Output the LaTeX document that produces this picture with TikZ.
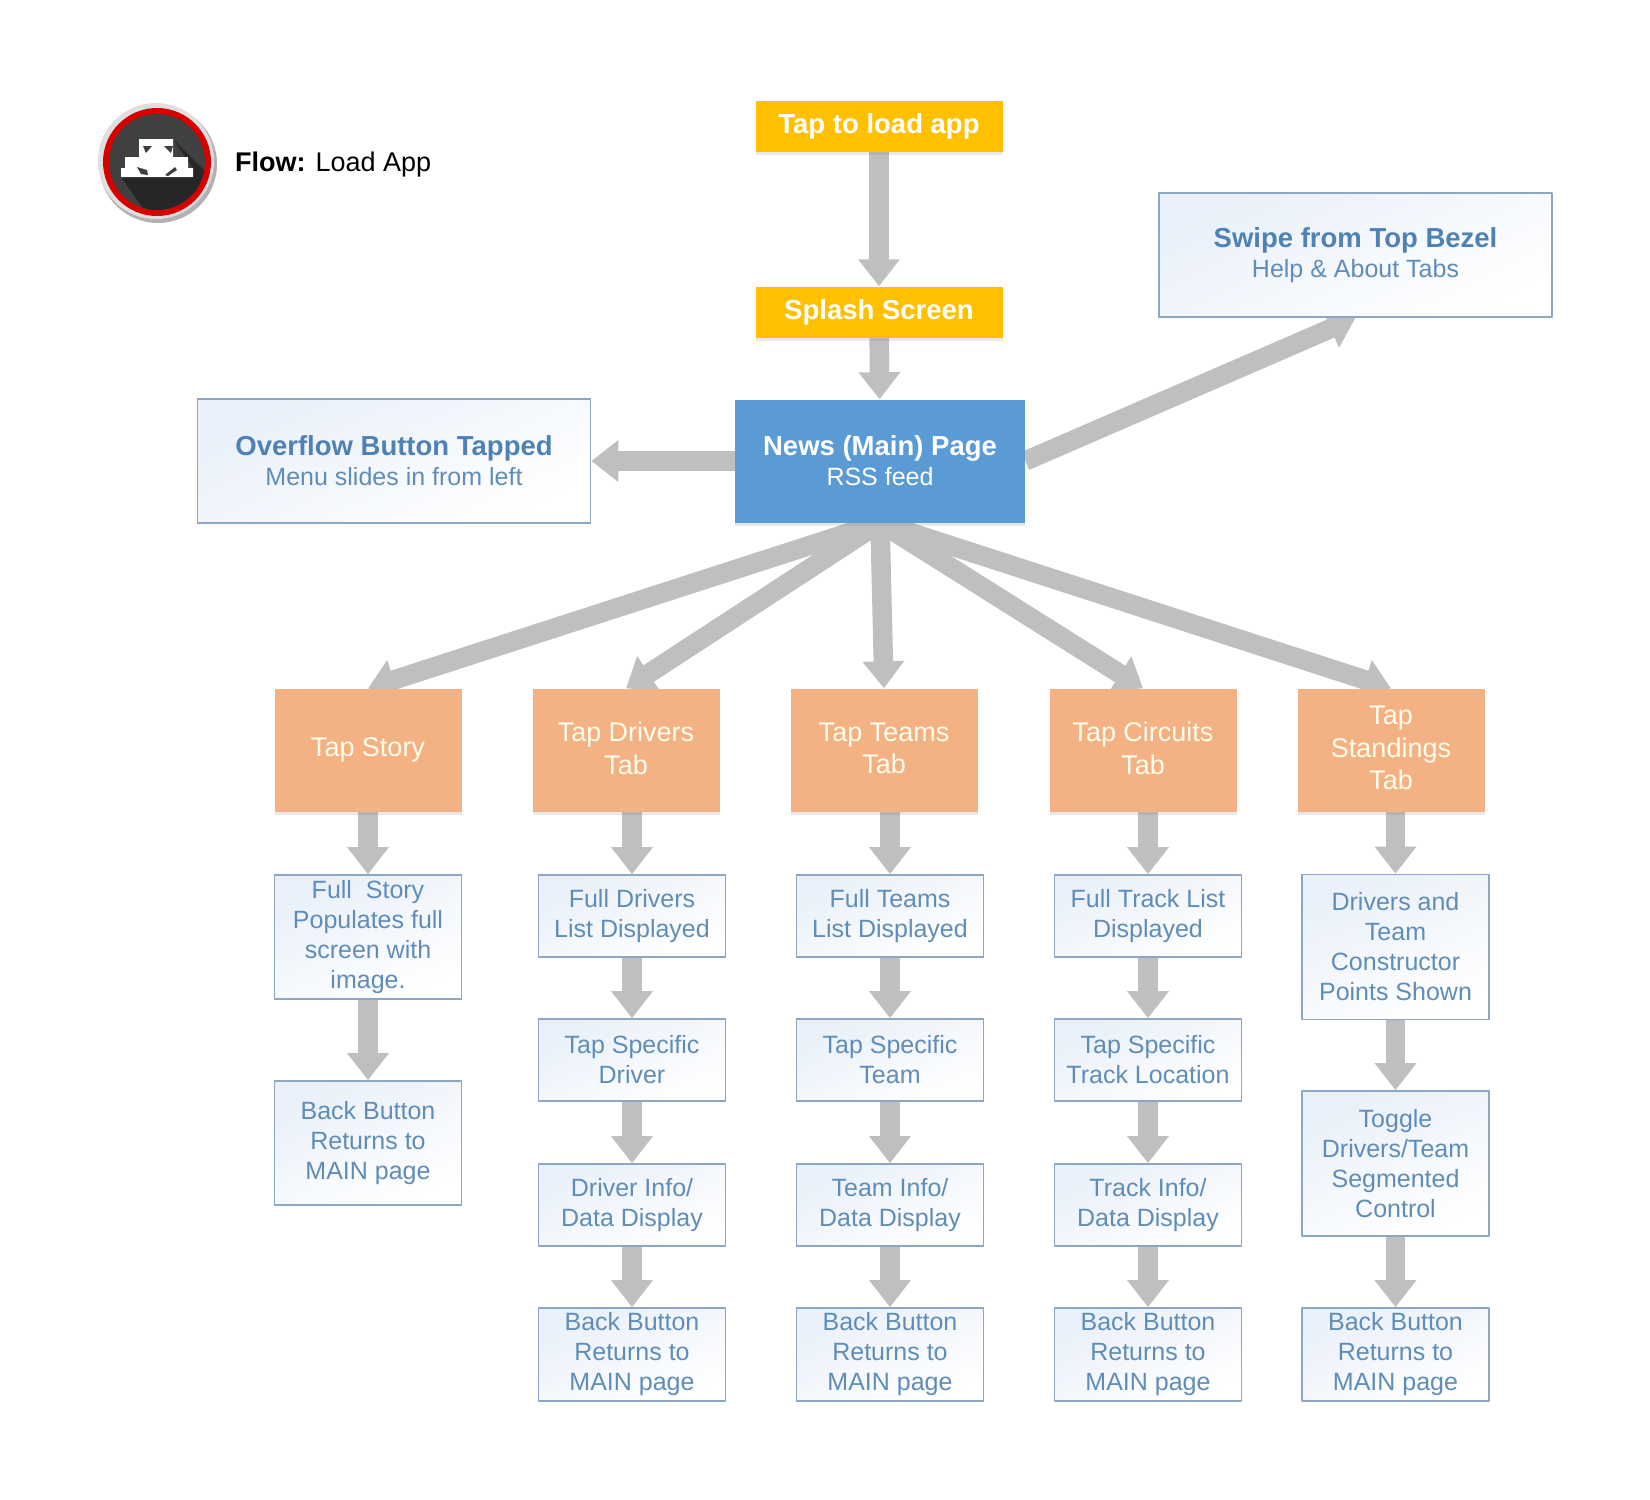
\documentclass[tikz,border=0pt]{standalone}
\usepackage{fontspec}
\setmainfont{Liberation Sans}
\usetikzlibrary{arrows.meta,backgrounds,shadows}
\definecolor{flowgray}{HTML}{BFBFBF}
\definecolor{startyellow}{HTML}{FFC000}
\definecolor{mainblue}{HTML}{5B9BD5}
\definecolor{taborange}{HTML}{F4B183}
\definecolor{boxline}{HTML}{8BA7C4}
\definecolor{boxtext}{HTML}{5F8DB8}
\definecolor{boxtitle}{HTML}{4F81B5}
\definecolor{boxtint}{HTML}{E9F0F9}
\begin{document}
\begin{tikzpicture}[x=1pt, y=-1pt, line join=round, >=stealth]
	\useasboundingbox (0,0) rectangle (1650,1500);
	\tikzset{
		flow/.style={draw=flowgray, line width=19.5pt, -{Triangle[width=40pt,length=27pt]}},
		soft/.style={drop shadow={opacity=.18, shadow xshift=0pt, shadow yshift=-3pt}},
		tinted/.style={draw=boxline, line width=1.6pt, left color=boxtint, middle color=white, right color=white, shading angle=25, text=boxtext, align=center},
		startbox/.style={fill=startyellow, soft, text=white, minimum width=247pt, minimum height=51pt, font=\fontsize{27.5}{33}\selectfont\bfseries},
		mainbox/.style={fill=mainblue, soft, text=white, align=center, minimum width=290pt, minimum height=123pt, font=\fontsize{25}{30}\selectfont},
		notebox/.style={tinted, minimum width=393pt, minimum height=124pt, font=\fontsize{25}{30}\selectfont},
		tabbox/.style={fill=taborange, soft, text=white!92!yellow, align=center, minimum width=187pt, minimum height=123pt, font=\fontsize{27}{32.5}\selectfont},
		tabmulti/.style={tabbox, text depth=4pt},
		subbox/.style={tinted, minimum width=187pt, inner sep=0pt, font=\fontsize{25}{30}\selectfont},
		rowa/.style={subbox, minimum height=82pt},
		rowb/.style={subbox, minimum height=93pt},
		rowc/.style={subbox, minimum height=124pt},
		rowd/.style={subbox, minimum height=145pt}
	}
	% icon
	\fill[gray!60] (158,164) circle (59);
	\fill[gray!25] (156,161) circle (58);
	\fill[red!85!black] (157,162) circle (54);
	\fill[black!75] (157,162) circle (48);
	\begin{scope}
		\clip (157,162) circle (48);
		\fill[black!85] (173,139) -- (260,226) -- (200,290) -- (121,177) -- (193,168) -- cycle;
	\end{scope}
	\fill[white] (139,139) -- (173,139) -- (173,157) -- (188,157) -- (188,168) -- (193,168) -- (193,177) -- (121,177) -- (121,168) -- (125,168) -- (125,157) -- (139,157) -- cycle;
	\fill[black!75] (143,146) -- (152,146) -- (146,153) -- cycle (164,146) -- (173,146) -- (171,153) -- cycle
		(137,167) -- (147,170) -- (148,175) -- (141,174) -- cycle (165,175) -- (175,167) -- (177,170) -- (168,176) -- cycle;
	\node[anchor=west, inner sep=0pt, font=\fontsize{27}{32}\selectfont] (flowlabel) at (235,165) {\textbf{Flow:} Load App};
	% top of the flow
	\node[startbox] (load) at (879,126) {Tap to load app};
	\node[startbox] (splash) at (879,312) {Splash Screen};
	\node[mainbox] (news) at (880,461) {\fontsize{27.5}{32}\selectfont\textbf{News (Main) Page}\\RSS feed};
	\node[notebox] (swipe) at (1355.5,255) {\fontsize{27.5}{32}\selectfont\textbf{\textcolor{boxtitle}{Swipe from Top Bezel}}\\Help \& About Tabs};
	\node[notebox] (overflow) at (394,461) {\fontsize{27.5}{32}\selectfont\textbf{\textcolor{boxtitle}{Overflow Button Tapped}}\\Menu slides in from left};
	% tabs
	\node[tabbox] (story) at (368,750) {Tap Story};
	\node[tabmulti] (drivers) at (626,750) {Tap Drivers\\Tab};
	\node[tabmulti] (teams) at (884,750) {Tap Teams\\Tab};
	\node[tabmulti] (circuits) at (1143,750) {Tap Circuits\\Tab};
	\node[tabmulti] (standings) at (1391,750) {Tap\\Standings\\Tab};
	% story column
	\node[rowc] (storyfull) at (368,937) {Full\ \ Story\\Populates full\\screen with\\image.};
	\node[rowc] (storyback) at (368,1143) {Back Button\\Returns to\\MAIN page};
	% drivers column
	\node[rowa] (driverlist) at (632,916) {Full Drivers\\List Displayed};
	\node[rowa] (driverpick) at (632,1060) {Tap Specific\\Driver};
	\node[rowa] (driverinfo) at (632,1205) {Driver Info/\\Data Display};
	\node[rowb] (driverback) at (632,1354.5) {Back Button\\Returns to\\MAIN page};
	% teams column
	\node[rowa] (teamlist) at (890,916) {Full Teams\\List Displayed};
	\node[rowa] (teampick) at (890,1060) {Tap Specific\\Team};
	\node[rowa] (teaminfo) at (890,1205) {Team Info/\\Data Display};
	\node[rowb] (teamback) at (890,1354.5) {Back Button\\Returns to\\MAIN page};
	% circuits column
	\node[rowa] (tracklist) at (1148,916) {Full Track List\\Displayed};
	\node[rowa] (trackpick) at (1148,1060) {Tap Specific\\Track Location};
	\node[rowa] (trackinfo) at (1148,1205) {Track Info/\\Data Display};
	\node[rowb] (trackback) at (1148,1354.5) {Back Button\\Returns to\\MAIN page};
	% standings column
	\node[rowd] (points) at (1395.5,947) {Drivers and\\Team\\Constructor\\Points Shown};
	\node[rowd] (toggle) at (1395.5,1163.5) {Toggle\\Drivers/Team\\Segmented\\Control};
	\node[rowb] (standback) at (1395.5,1354.5) {Back Button\\Returns to\\MAIN page};
	% arrows go under the boxes
	\begin{scope}[on background layer]
		\draw[flow] (load) -- (splash);
		\draw[flow] (splash) -- (news);
		\draw[flow] (news.west) -- (overflow.east);
		\draw[flow] (news.east) -- (swipe.south);
		\foreach \tab in {story,drivers,teams,circuits,standings}
			\draw[flow] (news.south) -- (\tab.north);
		\foreach \from/\to in {story/storyfull,storyfull/storyback,drivers/driverlist,driverlist/driverpick,driverpick/driverinfo,driverinfo/driverback,teams/teamlist,teamlist/teampick,teampick/teaminfo,teaminfo/teamback,circuits/tracklist,tracklist/trackpick,trackpick/trackinfo,trackinfo/trackback,standings/points,points/toggle,toggle/standback}
			\draw[flow] (\to.north |- \from.south) -- (\to.north);
	\end{scope}
\end{tikzpicture}
\end{document}
